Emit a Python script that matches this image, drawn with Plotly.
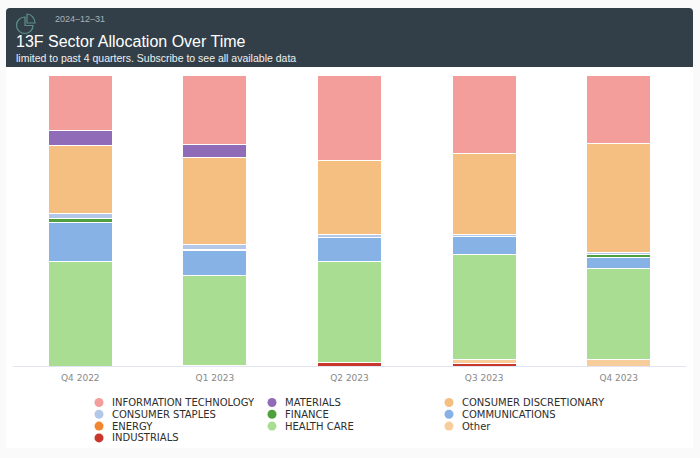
import plotly.graph_objects as go

W, H = 700, 458
L, R, T, B = 13, 14, 74, 92
quarters = ["Q4 2022", "Q1 2023", "Q2 2023", "Q3 2023", "Q4 2023"]

industrials = [0, 0, 4, 3, 0]
energy = [0, 0, 0, 0, 0]
other = [0, 1, 0, 4, 7]
health_care = [105, 90, 101, 105, 91]
communications = [39, 25, 24, 18, 11]
finance = [4, 1, 0, 0, 3]
consumer_staples = [5, 5, 3, 2, 2]
consumer_discretionary = [68, 87, 74, 81, 109]
materials = [15, 13, 0, 0, 0]
information_technology = [55, 69, 85, 78, 68]

series_bottom_up = [
    ("INDUSTRIALS", industrials, "#c9372c"),
    ("ENERGY", energy, "#f28730"),
    ("Other", other, "#f7cd9b"),
    ("HEALTH CARE", health_care, "#a9dd92"),
    ("COMMUNICATIONS", communications, "#86b2e6"),
    ("FINANCE", finance, "#4e9f3d"),
    ("CONSUMER STAPLES", consumer_staples, "#b3c7e8"),
    ("CONSUMER DISCRETIONARY", consumer_discretionary, "#f5bf82"),
    ("MATERIALS", materials, "#8f6bb8"),
    ("INFORMATION TECHNOLOGY", information_technology, "#f39e9b"),
]
colors = {n: c for n, _, c in series_bottom_up}

legend_rows = [
    ["INFORMATION TECHNOLOGY", "MATERIALS", "CONSUMER DISCRETIONARY"],
    ["CONSUMER STAPLES", "FINANCE", "COMMUNICATIONS"],
    ["ENERGY", "HEALTH CARE", "Other"],
    ["INDUSTRIALS"],
]
title_text = "13F Sector Allocation Over Time"
subtitle_text = "limited to past 4 quarters. Subscribe to see all available data"
date_text = "2024\u201312\u201331"


def px(x):
    return (x - L) / (W - L - R)


def py(y):
    return (H - B - y) / (H - T - B)


fig = go.Figure()
for name, values, color in series_bottom_up:
    fig.add_bar(x=quarters, y=values, name=name,
                marker=dict(color=color, line=dict(color="white", width=1)))

shapes = [
    dict(type="rect", xref="paper", yref="paper", layer="below", x0=px(6), x1=px(693), y0=py(8), y1=py(448),
         fillcolor="white", line_width=0),
    dict(type="path", xref="paper", yref="paper", layer="below",
         path=f"M {px(6)} {py(12)} Q {px(6)} {py(8)} {px(10)} {py(8)} L {px(689)} {py(8)} Q {px(693)} {py(8)} {px(693)} {py(12)} "
              f"L {px(693)} {py(67)} L {px(6)} {py(67)} Z",
         fillcolor="#333f48", line_width=0),
    # pie-chart icon
    dict(type="path", xref="paper", yref="paper",
         path=f"M {px(25)} {py(17)} C {px(20)} {py(17)} {px(16.5)} {py(21)} {px(16.5)} {py(25)} "
              f"C {px(16.5)} {py(30)} {px(20.5)} {py(33.5)} {px(25)} {py(33.5)} "
              f"C {px(29.5)} {py(33.5)} {px(33)} {py(30)} {px(33)} {py(25.5)} L {px(25)} {py(25.5)} Z",
         line=dict(color="#5b9088", width=1.2)),
    dict(type="path", xref="paper", yref="paper",
         path=f"M {px(27)} {py(14)} C {px(31)} {py(14)} {px(35)} {py(18)} {px(35)} {py(23)} L {px(27)} {py(23)} Z",
         line=dict(color="#5b9088", width=1.2)),
]
annotations = [
    dict(text=date_text, x=px(55), y=py(19), font=dict(size=9, color="#a9b2b8", family="Liberation Sans")),
    dict(text=title_text, x=px(15.5), y=py(41.5), font=dict(size=16, color="white", family="Liberation Sans")),
    dict(text=subtitle_text, x=px(15.5), y=py(58), font=dict(size=10.5, color="#eef0f1", family="Liberation Sans")),
]

col_x = [99, 272, 449]
for r, row in enumerate(legend_rows):
    yc = 402.5 + r * 11.8
    for c, name in enumerate(row):
        xc = col_x[c]
        shapes.append(dict(type="circle", xref="paper", yref="paper", x0=px(xc - 4.5), x1=px(xc + 4.5),
                           y0=py(yc - 4.5), y1=py(yc + 4.5), fillcolor=colors[name], line_width=0))
        annotations.append(dict(text=name, x=px(xc + 13), y=py(yc),
                                font=dict(size=10, color="#2e2e2e", family="DejaVu Sans")))
for a in annotations:
    a.update(xref="paper", yref="paper", xanchor="left", yanchor="middle", showarrow=False,
             xshift=0, yshift=0, borderpad=0, borderwidth=0)

fig.update_layout(
    width=W, height=H, barmode="stack", bargap=0.524,
    paper_bgcolor="#fafafa", plot_bgcolor="rgba(0,0,0,0)",
    margin=dict(l=L, r=R, t=T, b=B),
    showlegend=False, shapes=shapes, annotations=annotations,
    xaxis=dict(showgrid=False, showline=True, linecolor="#e3e4f2", linewidth=1, ticks="",
               tickfont=dict(size=9, color="#888888", family="DejaVu Sans"), ticklabelstandoff=3),
    yaxis=dict(visible=False, range=[0, 292], fixedrange=True),
)
fig.write_html("out.html", post_script="document.body.style.margin='0';", config=dict(displayModeBar=False))
